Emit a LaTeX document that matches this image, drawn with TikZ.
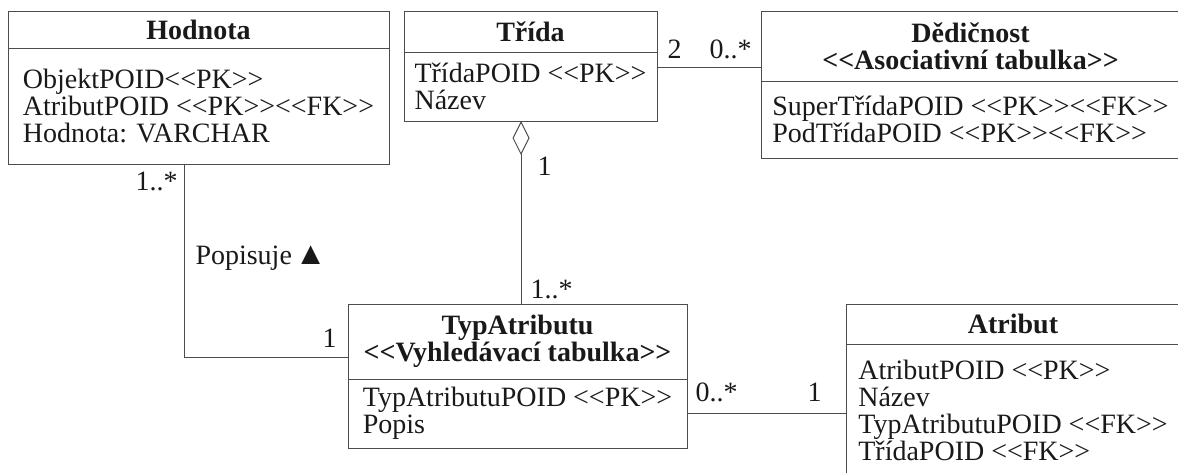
\documentclass[tikz,border=0pt]{standalone}
\usepackage{fontspec}
\setmainfont{Liberation Serif}[Ligatures=TeXOff]
\usetikzlibrary{positioning,arrows.meta}
\newcommand{\umlfont}{\fontsize{14}{13.5}\selectfont}

\begin{document}
\begin{tikzpicture}[x=0.5pt, y=-0.5pt, line width=0.5pt, every node/.style={text=black!90, font=\umlfont}, head/.style={rectangle,draw=black!70,outer sep=0pt,inner sep=0pt,align=center,font=\umlfont\bfseries}, body/.style={rectangle,draw=black!70,outer sep=0pt,inner sep=0pt,align=left}, link/.style={draw=black!70}, mult/.style={inner sep=0pt}]
    \useasboundingbox (0,0) rectangle (1178,472);

    \node[head, anchor=north west, minimum width=190.5pt, minimum height=18.5pt] (hodnota) at (8,11) {Hodnota};
    \node[body, below=0pt of hodnota, minimum width=190.5pt, minimum height=58pt] (hodnotab) {ObjektPOID<<PK>>\\AtributPOID <<PK>><<FK>>\\Hodnota: VARCHAR};
    \node[head, anchor=north west, minimum width=126.5pt, minimum height=20.5pt] (trida) at (404,11) {Třída};
    \node[body, below=0pt of trida, minimum width=126.5pt, minimum height=34.5pt] (tridab) {TřídaPOID <<PK>>\\Název};
    \node[head, anchor=north west, minimum width=209.5pt, minimum height=35pt] (dedicnost) at (761,11) {Dědičnost\\<<Asociativní tabulka>>};
    \node[body, below=0pt of dedicnost, minimum width=209.5pt, minimum height=38.5pt] (dedicnostb) {SuperTřídaPOID <<PK>><<FK>>\\PodTřídaPOID <<PK>><<FK>>};
    \node[head, anchor=north west, minimum width=169.5pt, minimum height=37.5pt] (typ) at (348,304) {TypAtributu\\<<Vyhledávací tabulka>>};
    \node[body, below=0pt of typ, minimum width=169.5pt, minimum height=34.5pt] (typb) {TypAtributuPOID <<PK>>\\Popis};
    \node[head, anchor=north west, minimum width=167pt, minimum height=20pt] (atribut) at (846,304) {Atribut};
    \node[body, below=0pt of atribut, minimum width=167pt, minimum height=66pt] (atributb) {AtributPOID <<PK>>\\Název\\TypAtributuPOID <<FK>>\\TřídaPOID <<FK>>};

    \draw[link] ([xshift=-7.25pt]hodnotab.south) |- ([yshift=-7.75pt]typ.west)
        node[mult, pos=0, anchor=north east, xshift=-3pt, yshift=-4pt] (m1) {1..*}
        node[mult, pos=0.26, anchor=base west, xshift=5.5pt] (popisuje) {Popisuje\hspace{1.5pt}{\fontsize{16}{16}\selectfont ▲}}
        node[mult, pos=1, anchor=base east, xshift=-5.5pt, yshift=5pt] (m2) {1};
    \draw[link, -{Diamond[open, length=17pt, width=8.5pt]}] ([xshift=1.75pt]typ.north) -- ([xshift=1.75pt]typ.north |- tridab.south)
        node[mult, pos=0, anchor=base west, xshift=4.5pt, yshift=3pt] (m3) {1..*}
        node[mult, pos=1, anchor=base west, xshift=8pt, yshift=-27pt] (m4) {1};
    \draw[link] ([yshift=-7.5pt]tridab.north east) -- ([yshift=-7.5pt]tridab.north east -| dedicnost.west)
        node[mult, pos=0, anchor=base west, xshift=5pt, yshift=4.5pt] (m5) {2}
        node[mult, pos=1, anchor=base east, xshift=-4.5pt, yshift=4.5pt] (m6) {0..*};
    \draw[link] (typb.east) -- (typb.east -| atributb.west)
        node[mult, pos=0, anchor=base west, xshift=4pt, yshift=6pt] (m7) {0..*}
        node[mult, pos=1, anchor=base east, xshift=-12pt, yshift=6pt] (m8) {1};
\end{tikzpicture}
\end{document}
